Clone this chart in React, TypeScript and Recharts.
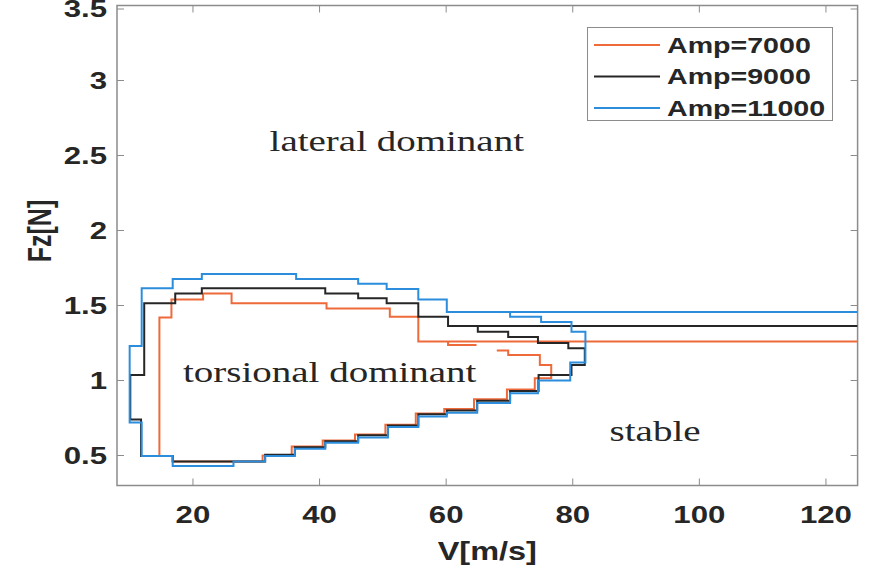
import React from 'react'
import { ComposedChart, Line, Scatter, XAxis, YAxis, ReferenceArea, Legend } from 'recharts'

// stability boundaries, [V (m/s), Fz (N)] vertices; null = pen up
const amp7000: [number, number | null][] = [
  [125, 1.26], [55.6, 1.26], [55.6, 1.425], [51.1, 1.425], [51.1, 1.48], [41.1, 1.48],
  [41.1, 1.515], [26.1, 1.515], [26.1, 1.58], [21.6, 1.58], [21.6, 1.54], [16.6, 1.54],
  [16.6, 1.42], [14.7, 1.42], [14.7, 0.497], [16.8, 0.497], [16.8, 0.46], [31, 0.46],
  [31, 0.5], [35.6, 0.5], [35.6, 0.56], [40.5, 0.56], [40.5, 0.6], [45.6, 0.6],
  [45.6, 0.64], [50.4, 0.64], [50.4, 0.705], [55.2, 0.705], [55.2, 0.78], [59.7, 0.78],
  [59.7, 0.81], [64.4, 0.81], [64.4, 0.875], [69.6, 0.875], [69.6, 0.94], [74, 0.94],
  [74, 1.015], [76.6, 1.015], [76.6, 1.103], [74.8, 1.103], [74.8, 1.17], [69.8, 1.17],
  [69.8, 1.2], [68, 1.2], [66, null],
  [60.3, 1.26], [60.3, 1.237], [64.8, 1.237],
]

const amp9000: [number, number | null][] = [
  [125, 1.363], [60.3, 1.363], [60.3, 1.425], [55.6, 1.425], [55.6, 1.515], [50.6, 1.515],
  [50.6, 1.548], [46.1, 1.548], [46.1, 1.58], [40.9, 1.58], [40.9, 1.615], [21.4, 1.615],
  [21.4, 1.58], [17.2, 1.58], [17.2, 1.515], [12.3, 1.515], [12.3, 1.037], [10.1, 1.037],
  [10.1, 0.74], [11.8, 0.74], [11.8, 0.497], [16.8, 0.497], [16.8, 0.46], [31.4, 0.46],
  [31.4, 0.505], [36.1, 0.505], [36.1, 0.555], [40.9, 0.555], [40.9, 0.595], [46.1, 0.595],
  [46.1, 0.635], [50.8, 0.635], [50.8, 0.7], [55.6, 0.7], [55.6, 0.775], [60.1, 0.775],
  [60.1, 0.8], [64.9, 0.8], [64.9, 0.865], [70.1, 0.865], [70.1, 0.93], [74.6, 0.93],
  [74.6, 1.037], [79.8, 1.037], [79.8, 1.103], [81.9, 1.103], [81.9, 1.215], [79.3, 1.215],
  [79.3, 1.25], [74.5, 1.25], [74.5, 1.29], [69.8, 1.29], [69.8, 1.325], [65, 1.325],
  [65, 1.363],
]

const amp11000: [number, number | null][] = [
  [125, 1.457], [60.1, 1.457], [60.1, 1.54], [55.6, 1.54], [55.6, 1.61], [50.6, 1.61],
  [50.6, 1.645], [46.1, 1.645], [46.1, 1.677], [36.3, 1.677], [36.3, 1.71], [21.4, 1.71],
  [21.4, 1.677], [16.8, 1.677], [16.8, 1.615], [11.9, 1.615], [11.9, 1.23], [10, 1.23],
  [10, 0.72], [11.9, 0.72], [11.9, 0.497], [16.8, 0.497], [16.8, 0.43], [26.4, 0.43],
  [26.4, 0.46], [31.4, 0.46], [31.4, 0.497], [36.1, 0.497], [36.1, 0.545], [40.9, 0.545],
  [40.9, 0.585], [46.1, 0.585], [46.1, 0.62], [50.8, 0.62], [50.8, 0.69], [55.6, 0.69],
  [55.6, 0.76], [60.1, 0.76], [60.1, 0.785], [64.9, 0.785], [64.9, 0.85], [70.1, 0.85],
  [70.1, 0.915], [74.5, 0.915], [74.5, 1.0], [79.6, 1.0], [79.6, 1.12], [82, 1.12],
  [82, 1.325], [79.8, 1.325], [79.8, 1.39], [75, 1.39], [75, 1.425], [70.1, 1.425],
  [70.1, 1.457],
]

const seriesNames = ['Amp=7000', 'Amp=9000', 'Amp=11000']
const seriesColors = ['#ee6a3a', '#262626', '#2b8ddb']
const seriesPoints = [amp7000, amp9000, amp11000]

const xTicks = [20, 40, 60, 80, 100, 120]
const yTicks = [0.5, 1, 1.5, 2, 2.5, 3, 3.5]

const regionLabels = [
  { text: 'lateral dominant', x: 52.2, y: 2.6 },
  { text: 'torsional dominant', x: 41.6, y: 1.057 },
  { text: 'stable', x: 93, y: 0.67 },
]

// layout
const W = 887
const H = 581
const PLOT_LEFT = 117
const PLOT_TOP = 5.5
const PLOT_RIGHT = 857.6
const PLOT_BOTTOM = 485.5
const SX = 1.3 // the source picture is stretched sideways
const GRAY = '#8c8c8c'
const INK = '#262626'
const SANS = '"Liberation Sans", Arial, sans-serif'
const SERIF = '"Liberation Serif", "Times New Roman", serif'

const toRows = (pts: [number, number | null][]) => pts.map(([x, y]) => ({ x, y }))

function StretchText({ x, y, children, anchor = 'middle', size, weight = 'bold', family = SANS, rotate = 0 }: any) {
  return (
    <g transform={`translate(${x},${y}) scale(${SX},1) rotate(${rotate})`}>
      <text x={0} y={0} dy="0.35em" textAnchor={anchor} fontSize={size} fontWeight={weight} fontFamily={family} fill={INK}>
        {children}
      </text>
    </g>
  )
}

const XTick = (props: any) => {
  const { x, payload } = props
  return (
    <g>
      <line x1={x} x2={x} y1={PLOT_BOTTOM} y2={PLOT_BOTTOM - 7} stroke={GRAY} />
      <line x1={x} x2={x} y1={PLOT_TOP} y2={PLOT_TOP + 7} stroke={GRAY} />
      <StretchText x={x} y={PLOT_BOTTOM + 29.5} size={24}>{payload.value}</StretchText>
    </g>
  )
}

const YTick = (props: any) => {
  const { y, payload } = props
  return (
    <g>
      <line x1={PLOT_LEFT} x2={PLOT_LEFT + 7} y1={y} y2={y} stroke={GRAY} />
      <line x1={PLOT_RIGHT} x2={PLOT_RIGHT - 7} y1={y} y2={y} stroke={GRAY} />
      <StretchText x={PLOT_LEFT - 10} y={y} size={24} anchor="end">{payload.value}</StretchText>
    </g>
  )
}

function LegendBox() {
  return (
    <div style={{ width: 246, height: 94, border: `1.5px solid ${GRAY}`, background: '#fff', boxSizing: 'border-box' }}>
      <svg width={243} height={91}>
        {seriesNames.map((name, i) => (
          <g key={name}>
            <line x1={6} x2={72} y1={17 + i * 31.5} y2={17 + i * 31.5} stroke={seriesColors[i]} strokeWidth={2} />
            <StretchText x={79} y={17 + i * 31.5} size={22} anchor="start">{name}</StretchText>
          </g>
        ))}
      </svg>
    </div>
  )
}

export default function App() {
  return (
    <div style={{ position: 'absolute', left: 0, top: 0, width: W, height: H, background: '#fff' }}>
      <ComposedChart
        width={W}
        height={H}
        margin={{ top: PLOT_TOP, right: W - PLOT_RIGHT, left: PLOT_LEFT - 60, bottom: H - PLOT_BOTTOM - 40 }}
      >
        <XAxis
          dataKey="x"
          type="number"
          domain={[8, 125]}
          ticks={xTicks}
          allowDataOverflow
          axisLine={false}
          tickLine={false}
          tickSize={0}
          height={40}
          tick={<XTick />}
          label={{
            content: () => <StretchText x={(PLOT_LEFT + PLOT_RIGHT) / 2} y={551} size={25}>V[m/s]</StretchText>,
          }}
        />
        <YAxis
          dataKey="y"
          type="number"
          domain={[0.3, 3.5]}
          ticks={yTicks}
          allowDataOverflow
          axisLine={false}
          tickLine={false}
          tickSize={0}
          width={60}
          tick={<YTick />}
          label={{
            content: () => <StretchText x={40} y={231} size={25} rotate={-90}>Fz[N]</StretchText>,
          }}
        />
        <ReferenceArea x1={8} x2={125} y1={0.3} y2={3.5} fill="none" stroke={GRAY} strokeWidth={1.5} />
        {seriesPoints.map((pts, i) => (
          <Line
            key={seriesNames[i]}
            name={seriesNames[i]}
            data={toRows(pts)}
            dataKey="y"
            type="linear"
            stroke={seriesColors[i]}
            strokeWidth={2}
            dot={false}
            activeDot={false}
            connectNulls={false}
            isAnimationActive={false}
          />
        ))}
        <Scatter
          data={regionLabels}
          dataKey="y"
          legendType="none"
          isAnimationActive={false}
          shape={(p: any) => (
            <StretchText x={p.cx} y={p.cy} size={30} weight="normal" family={SERIF}>{p.payload.text}</StretchText>
          )}
        />
        <Legend
          layout="vertical"
          align="center"
          verticalAlign="middle"
          content={() => <LegendBox />}
          wrapperStyle={{ position: 'absolute', left: 587, top: 27, width: 246, height: 94 }}
        />
      </ComposedChart>
    </div>
  )
}
